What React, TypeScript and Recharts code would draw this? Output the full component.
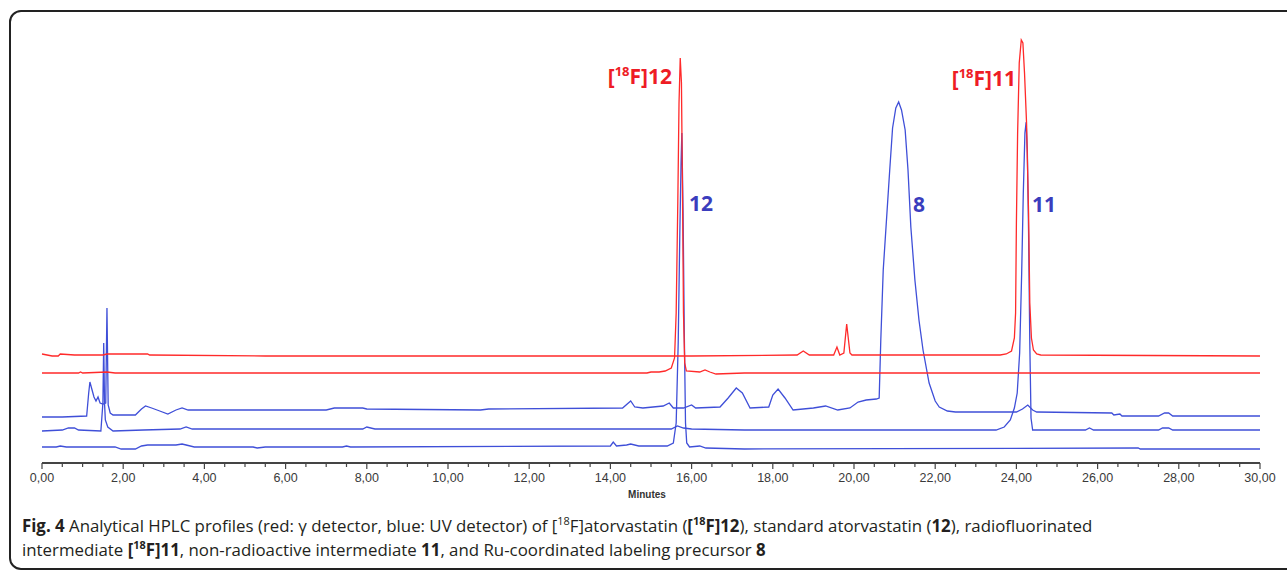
import { LineChart, Line, XAxis, YAxis } from "recharts";

// time (min) / signal pairs
const gammaA: [number, number][] = [
  [0, 109], [0.25, 107], [0.4, 107], [0.45, 109], [0.8, 108], [1.5, 108], [1.6, 109],
  [2.6, 109], [2.65, 108], [5.5, 107], [13, 107], [16, 107], [18.6, 108], [18.75, 112],
  [18.9, 108], [19.5, 108], [19.58, 116], [19.65, 108], [19.75, 110], [19.82, 139],
  [19.9, 110], [19.95, 108], [23.6, 108], [23.75, 109], [23.88, 112], [23.95, 125],
  [23.98, 150], [24.0, 240], [24.03, 330], [24.07, 400], [24.12, 423], [24.16, 420],
  [24.2, 390], [24.25, 340], [24.3, 250], [24.33, 160], [24.37, 125], [24.42, 113],
  [24.5, 109], [24.6, 108], [30, 107],
];

const gammaB: [number, number][] = [
  [0, 90], [0.9, 90], [0.95, 91], [1.0, 90], [1.6, 91], [1.8, 90], [14.9, 90], [15.0, 91],
  [15.2, 91], [15.35, 92], [15.5, 95], [15.58, 105], [15.62, 150], [15.66, 260],
  [15.69, 360], [15.72, 405], [15.75, 380], [15.78, 250], [15.8, 150], [15.83, 100],
  [15.87, 92], [16.2, 91], [16.33, 93], [16.45, 91], [16.6, 89], [17.3, 90], [30, 90],
];

const uvA: [number, number][] = [
  [0, 46], [0.5, 46], [1.1, 47], [1.15, 70], [1.18, 81], [1.22, 75], [1.28, 66], [1.33, 62],
  [1.38, 66], [1.43, 60], [1.5, 59], [1.57, 60], [1.6, 155], [1.63, 58], [1.68, 50],
  [1.75, 48], [2.3, 48], [2.45, 54], [2.55, 57], [2.7, 55], [2.9, 52], [3.1, 49], [3.3, 53],
  [3.45, 55], [3.6, 53], [7.0, 53], [7.2, 55], [7.9, 55], [8.0, 54], [10.8, 53], [11, 54],
  [14.3, 55], [14.5, 62], [14.6, 56], [14.8, 55], [15.3, 57], [15.45, 60], [15.55, 55],
  [15.8, 55], [16.0, 58], [16.1, 55], [16.7, 56], [16.9, 65], [17.1, 75], [17.25, 70],
  [17.44, 55], [17.9, 56], [18.0, 68], [18.13, 74], [18.3, 65], [18.5, 53], [19.0, 55],
  [19.3, 57], [19.6, 53], [19.9, 55], [20.1, 61], [20.3, 63], [20.55, 64], [20.62, 65],
  [20.66, 123], [20.72, 193], [20.8, 243], [20.88, 293], [20.95, 335], [21.03, 355],
  [21.1, 361], [21.17, 353], [21.26, 333], [21.33, 293], [21.4, 236], [21.5, 183],
  [21.6, 143], [21.7, 113], [21.85, 80], [22.0, 62], [22.1, 56], [22.3, 52], [22.5, 51],
  [24.0, 51], [24.15, 54], [24.28, 58], [24.4, 53], [24.5, 51], [26.35, 50], [26.4, 48],
  [26.55, 49], [26.6, 47], [27.5, 47], [27.65, 50], [27.75, 50], [27.85, 47], [30, 47],
];

const uvB: [number, number][] = [
  [0, 32], [0.5, 33], [0.65, 35], [0.8, 35], [0.9, 33], [1.45, 32], [1.5, 60], [1.52, 120],
  [1.54, 60], [1.56, 43], [1.62, 36], [1.75, 32], [2.5, 33], [3.4, 34], [3.55, 36],
  [3.7, 34], [7.9, 34], [8.0, 36], [8.2, 34], [15.5, 34], [15.65, 37], [15.8, 35],
  [16.0, 34], [17.3, 33], [23.5, 33], [23.7, 36], [23.85, 43], [23.95, 55], [24.02, 70],
  [24.08, 110], [24.13, 190], [24.17, 270], [24.21, 330], [24.24, 341], [24.27, 310],
  [24.3, 230], [24.33, 120], [24.36, 45], [24.4, 33], [25.7, 33], [25.8, 35], [25.9, 33],
  [27.5, 33], [27.6, 35], [27.75, 35], [27.85, 33], [30, 33],
];

const uvC: [number, number][] = [
  [0, 16], [0.35, 16], [0.45, 17], [0.6, 16], [1.8, 16], [1.95, 14], [2.3, 14], [2.45, 17],
  [2.6, 18], [3.3, 18], [3.45, 19], [3.55, 18], [3.75, 16], [5.2, 16], [5.3, 15], [5.5, 16],
  [7.4, 16], [7.5, 17], [7.6, 16], [14.0, 17], [14.07, 21], [14.15, 17], [14.4, 18],
  [14.5, 19], [14.7, 17], [15.4, 17], [15.55, 20], [15.62, 40], [15.67, 120], [15.71, 230],
  [15.74, 300], [15.76, 330], [15.79, 250], [15.82, 130], [15.85, 40], [15.88, 20],
  [15.95, 16], [16.2, 17], [16.35, 15], [17.3, 14], [27.0, 15], [27.05, 14], [30, 14],
];

const xTicks = Array.from({ length: 61 }, (_, i) => i * 0.5);

const RED = "#ff2a2a";
const BLUE = "#3f4fd8";

const toRows = (pts: [number, number][]) => pts.map(([t, v]) => ({ t, v }));

const MinuteTick = ({ x, y, payload }: any) => {
  const v = payload.value as number;
  const major = Math.abs(v / 2 - Math.round(v / 2)) < 1e-6;
  return (
    <g>
      <line x1={x} x2={x} y1={y} y2={y + (major ? 6 : 4)} stroke="#444" strokeWidth={1.2} />
      {major && (
        <text x={x} y={y + 19} textAnchor="middle" fontSize={12.5} fill="#3a3a3a"
          fontFamily="'Liberation Sans', Arial, sans-serif">
          {v.toFixed(2).replace(".", ",")}
        </text>
      )}
    </g>
  );
};

const peakFont = "'Open Sans', 'Liberation Sans', sans-serif";
const sup = { fontSize: 11, lineHeight: 0 };

export default function App() {
  return (
    <div style={{ position: "absolute", left: 0, top: 0, width: 1287, height: 571, background: "#fff", overflow: "hidden" }}>
      <div style={{ position: "absolute", left: 9, top: 10, width: 1300, height: 556, border: "2px solid #222", borderRadius: 12 }} />
      <div style={{ position: "absolute", left: 0, top: 0 }}>
        <LineChart width={1287} height={571} margin={{ top: 27, right: 27, bottom: 78, left: 42 }}>
          <XAxis dataKey="t" type="number" domain={[0, 30]} ticks={xTicks} interval={0}
            height={30} tickSize={0} tickMargin={0} tickLine={false}
            axisLine={{ stroke: "#444", strokeWidth: 2 }} tick={<MinuteTick />} allowDuplicatedCategory={false} />
          <XAxis xAxisId="top" dataKey="t" type="number" domain={[0, 30]} orientation="top"
            height={0} tick={false} tickLine={false} axisLine={{ stroke: "#777", strokeWidth: 1.5 }} />
          <YAxis type="number" domain={[0, 436]} width={0} tick={false} tickLine={false}
            axisLine={{ stroke: "#444", strokeWidth: 2 }} allowDataOverflow />
          <YAxis yAxisId="right" orientation="right" type="number" domain={[0, 436]} width={0}
            tick={false} tickLine={false} axisLine={{ stroke: "#777", strokeWidth: 1.5 }} />
          <Line data={toRows(uvC)} dataKey="v" type="linear" stroke={BLUE} strokeWidth={1.3} dot={false} isAnimationActive={false} />
          <Line data={toRows(uvB)} dataKey="v" type="linear" stroke={BLUE} strokeWidth={1.3} dot={false} isAnimationActive={false} />
          <Line data={toRows(uvA)} dataKey="v" type="linear" stroke={BLUE} strokeWidth={1.3} dot={false} isAnimationActive={false} />
          <Line data={toRows(gammaB)} dataKey="v" type="linear" stroke={RED} strokeWidth={1.3} dot={false} isAnimationActive={false} />
          <Line data={toRows(gammaA)} dataKey="v" type="linear" stroke={RED} strokeWidth={1.3} dot={false} isAnimationActive={false} />
        </LineChart>
      </div>
      <svg width={1287} height={571} style={{ position: "absolute", left: 0, top: 0, pointerEvents: "none" }}>
        <g fontFamily={peakFont} fontWeight="bold" fontSize={21}>
          <text x={672} y={84} textAnchor="end" fill="#ee1c25">
            [<tspan fontSize={13} dy={-8}>18</tspan><tspan dy={8}>F]12</tspan>
          </text>
          <text x={1016} y={86} textAnchor="end" fill="#ee1c25">
            [<tspan fontSize={13} dy={-8}>18</tspan><tspan dy={8}>F]11</tspan>
          </text>
          <text x={689} y={211} fill="#3a3dbd">12</text>
          <text x={913} y={212} fill="#3a3dbd">8</text>
          <text x={1032} y={212} fill="#3a3dbd">11</text>
        </g>
        <text x={647} y={498} textAnchor="middle" fontSize={10} fontWeight="bold" fill="#333"
          fontFamily="'Liberation Sans', Arial, sans-serif">Minutes</text>
      </svg>
      <div style={{ position: "absolute", left: 22, top: 514, fontFamily: "'Open Sans', sans-serif", fontSize: 17, lineHeight: "24px", color: "#231f20", whiteSpace: "nowrap", transform: "scaleX(0.99)", transformOrigin: "left top" }}>
        <div>
          <b>Fig. 4</b> Analytical HPLC profiles (red: γ detector, blue: UV detector) of [<sup style={sup}>18</sup>F]atorvastatin (<b>[<sup style={sup}>18</sup>F]12</b>), standard atorvastatin (<b>12</b>), radiofluorinated
        </div>
        <div>
          intermediate <b>[<sup style={sup}>18</sup>F]11</b>, non-radioactive intermediate <b>11</b>, and Ru-coordinated labeling precursor <b>8</b>
        </div>
      </div>
    </div>
  );
}
